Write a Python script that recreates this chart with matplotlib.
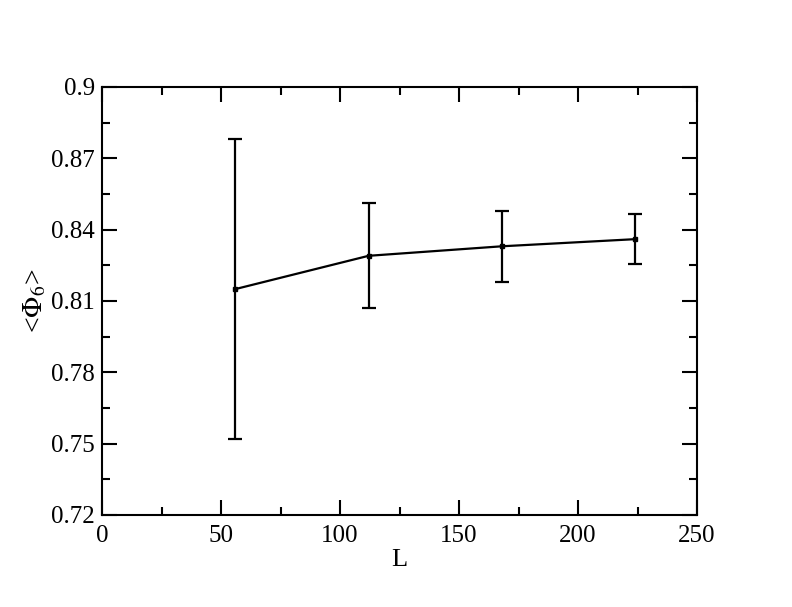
import matplotlib
matplotlib.use("Agg")
import matplotlib.pyplot as plt
from matplotlib.ticker import MultipleLocator

# data
L = [56, 112, 168, 224]
phi6 = [0.815, 0.829, 0.833, 0.836]
phi6_err = [0.063, 0.022, 0.015, 0.0105]

plt.rcParams['font.family'] = ['Liberation Serif', 'DejaVu Serif']
plt.rcParams['mathtext.fontset'] = 'stix'

fig = plt.figure(figsize=(7.92, 6.07), dpi=100)
ax = fig.add_axes([0.1288, 0.1516, 0.7513, 0.7051])

ax.errorbar(L, phi6, yerr=phi6_err, color='black', lw=1.6, elinewidth=1.6,
            capsize=5, capthick=1.6, marker='s', ms=3.5)

ax.set_xlim(0, 250)
ax.set_ylim(0.72, 0.9)
ax.xaxis.set_major_locator(MultipleLocator(50))
ax.xaxis.set_minor_locator(MultipleLocator(25))
ax.yaxis.set_minor_locator(MultipleLocator(0.015))
ax.set_yticks([0.72, 0.75, 0.78, 0.81, 0.84, 0.87, 0.9])
ax.set_yticklabels(['0.72', '0.75', '0.78', '0.81', '0.84', '0.87', '0.9'])

ax.tick_params(which='both', direction='in', top=True, right=True,
               labelsize=18, width=1.5)
ax.tick_params(axis='x', pad=7)
ax.tick_params(axis='y', pad=5)
ax.tick_params(which='major', length=11)
ax.tick_params(which='minor', length=6)
for s in ax.spines.values():
    s.set_linewidth(1.5)

ax.set_xlabel('L', fontsize=19, labelpad=2)
ax.set_ylabel(r'<$\Phi_{\mathit{6}}$>', fontsize=20, labelpad=2)

fig.savefig('out.png', dpi=100)
